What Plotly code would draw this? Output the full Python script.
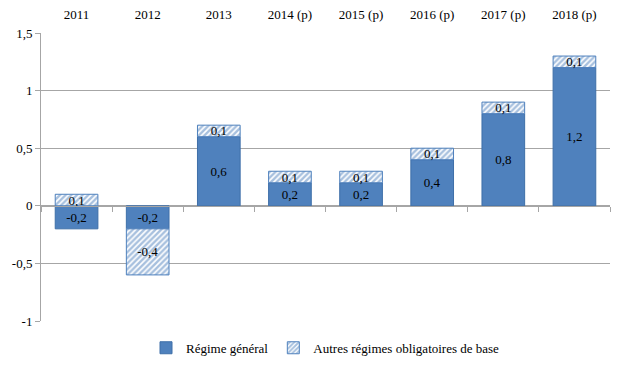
import plotly.graph_objects as go

categories = ["2011", "2012", "2013", "2014 (p)", "2015 (p)", "2016 (p)", "2017 (p)", "2018 (p)"]
regime_general = [-0.2, -0.2, 0.6, 0.2, 0.2, 0.4, 0.8, 1.2]
autres_regimes = [0.1, -0.4, 0.1, 0.1, 0.1, 0.1, 0.1, 0.1]
y_tickvals = [-1, -0.5, 0, 0.5, 1, 1.5]
y_ticktext = ["-1", "-0,5", "0", "0,5", "1", "1,5"]

FONT = "Liberation Serif, DejaVu Serif, serif"
GRID = "#A6A6A6"
BLUE = "#4F81BD"

fig = go.Figure()
fig.add_trace(go.Bar(
    x=categories, y=regime_general, name="Régime général",
    marker=dict(color=BLUE, line=dict(color="#3E6FA8", width=1)),
    texttemplate="%{y:.1f}", textposition="inside", insidetextanchor="middle",
    textangle=0, textfont=dict(color="black", size=13, family=FONT),
))
fig.add_trace(go.Bar(
    x=categories, y=autres_regimes, name="Autres régimes obligatoires de base",
    marker=dict(color="white", line=dict(color=BLUE, width=1),
                pattern=dict(shape="/", fgcolor=BLUE, bgcolor="white", size=4, solidity=0.6)),
    texttemplate="%{y:.1f}", textposition="inside", insidetextanchor="middle",
    textangle=0, textfont=dict(color="black", size=13, family=FONT),
))
# helper trace for the zero-line axis with category boundary ticks
fig.add_trace(go.Scatter(
    x=categories, y=[0] * len(categories), xaxis="x2", mode="markers",
    marker=dict(opacity=0), showlegend=False, hoverinfo="skip",
))

fig.update_layout(
    width=627, height=370,
    margin=dict(l=41, r=17, t=33, b=49, autoexpand=False),
    paper_bgcolor="white", plot_bgcolor="white",
    barmode="relative", bargap=0.4,
    separators=", ",
    uniformtext=dict(minsize=12, mode="show"),
    font=dict(family=FONT, size=13, color="black"),
    xaxis=dict(side="top", type="category", categoryorder="array", categoryarray=categories,
               showline=False, showgrid=False, ticks="", zeroline=False, automargin=False,
               ticklabelstandoff=10,
               tickfont=dict(family=FONT, size=13, color="black")),
    xaxis2=dict(matches="x", overlaying="x", anchor="free", position=0.4, side="bottom",
                type="category", showticklabels=False, ticks="outside", ticklen=5,
                tickcolor=GRID, tickson="boundaries", showline=True, linecolor=GRID,
                linewidth=1, showgrid=False, zeroline=False, automargin=False),
    yaxis=dict(range=[-1, 1.5], tickvals=y_tickvals, ticktext=y_ticktext,
               showgrid=True, gridcolor=GRID, gridwidth=1, zeroline=False, automargin=False,
               showline=True, linecolor=GRID, ticks="outside", ticklen=5, tickcolor=GRID,
               tickfont=dict(family=FONT, size=13, color="black")),
    legend=dict(orientation="h", x=0.5, xanchor="center", yref="container",
                y=0.06, yanchor="middle",
                font=dict(family=FONT, size=13, color="black"), traceorder="normal",
                itemwidth=30),
)

fig.write_html("out.html", config={"displayModeBar": False},
               post_script="document.body.style.margin='0';")
